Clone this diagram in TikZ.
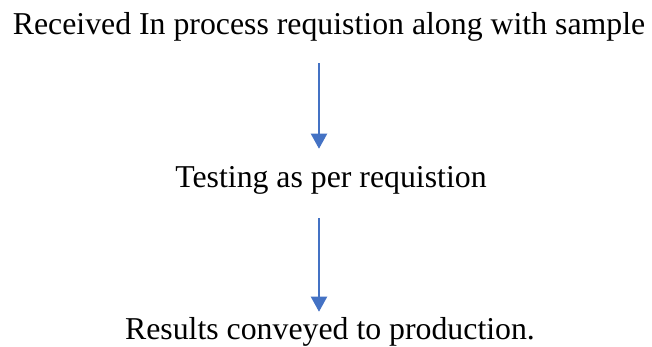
\documentclass[tikz,border=0pt]{standalone}
\usepackage{fontspec}
\setmainfont{Liberation Serif}
\usepackage{tikz}
\usetikzlibrary{arrows.meta}
\definecolor{arrowblue}{HTML}{4472C4}
\tikzset{%
  step text/.style={anchor=base, inner sep=0pt, font=\fontsize{31.8}{38}\selectfont},
  line/.style={draw, arrowblue, line width=2pt, -{Triangle[width=16pt, length=15pt]}}}
\begin{document}
\begin{tikzpicture}[x=1pt, y=-1pt]
    \useasboundingbox (0, 0) rectangle (652, 347);

    \node [step text] (received) at (329, 35) {Received In process requistion along with sample};
    \node [step text] (testing) at (331, 188) {Testing as per requistion};
    \node [step text] (results) at (330, 339) {Results conveyed to production.};

    \path [line, shorten <=21pt, shorten >=18pt] ([xshift=-10pt]received.south) -- ([xshift=-12pt]testing.north);
    \path [line, shorten <=23pt, shorten >=5pt] ([xshift=-12pt]testing.south) -- ([xshift=-11pt]results.north);
\end{tikzpicture}
\end{document}
